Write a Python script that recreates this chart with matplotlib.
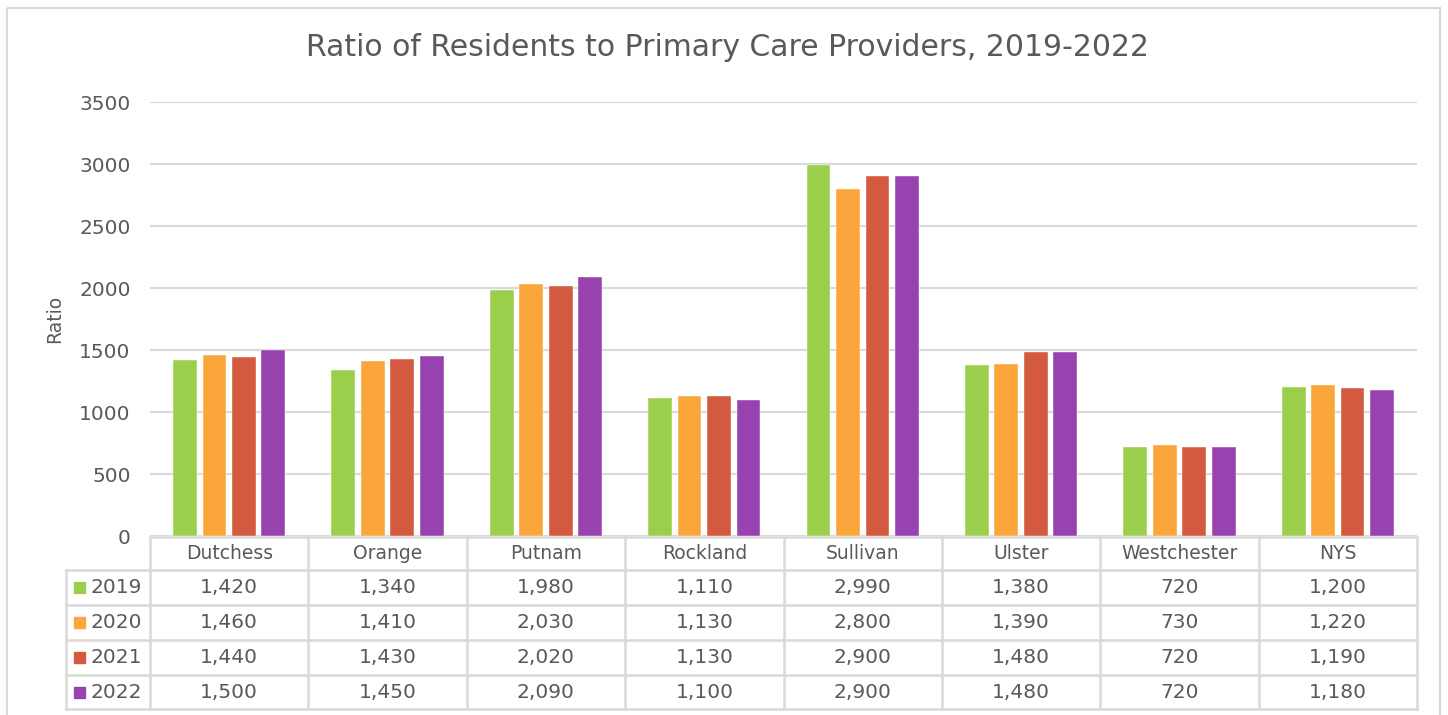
import matplotlib as mpl
mpl.use('Agg')
import matplotlib.pyplot as plt
import numpy as np
from matplotlib.patches import Rectangle

# data
counties = ['Dutchess', 'Orange', 'Putnam', 'Rockland', 'Sullivan', 'Ulster', 'Westchester', 'NYS']
years = ['2019', '2020', '2021', '2022']
r2019 = [1420, 1340, 1980, 1110, 2990, 1380, 720, 1200]
r2020 = [1460, 1410, 2030, 1130, 2800, 1390, 730, 1220]
r2021 = [1440, 1430, 2020, 1130, 2900, 1480, 720, 1190]
r2022 = [1500, 1450, 2090, 1100, 2900, 1480, 720, 1180]
series = [r2019, r2020, r2021, r2022]
colors = ['#9BCF4B', '#FAA63A', '#D45A3F', '#9842AF']

W, H = 1448, 715
txt = '#595959'
grid = '#D9D9D9'
plt.rcParams['font.family'] = ['DejaVu Sans']

fig = plt.figure(figsize=(W / 100, H / 100), dpi=100)

# plot area in pixel terms
x0, x1 = 150, 1417
y_top, y_zero = 102, 536
ax = fig.add_axes([x0 / W, (H - y_zero) / H, (x1 - x0) / W, (y_zero - y_top) / H])

n = len(counties)
x = np.arange(n)
step, bw = 0.186, 0.15
for k, (vals, c) in enumerate(zip(series, colors)):
    ax.bar(x + (k - 1.5) * step, vals, width=bw, color=c, edgecolor='white', linewidth=0.3, zorder=3)

ax.set_xlim(-0.5, n - 0.5)
ax.set_ylim(0, 3500)
ax.set_yticks(range(0, 3501, 500))
ax.set_xticks([])
ax.grid(axis='y', color=grid, linewidth=1.5, zorder=0)
for s in ax.spines.values():
    s.set_visible(False)
ax.tick_params(axis='y', length=0, pad=14, labelsize=14.5, labelcolor=txt)
ax.set_ylabel('Ratio', fontsize=13.5, color=txt, labelpad=11)

fig.text(727 / W, 1 - 48 / H, 'Ratio of Residents to Primary Care Providers, 2019-2022',
         ha='center', va='center', fontsize=21.5, color=txt)

# overlay in pixel coordinates for the data table and chart border
ov = fig.add_axes([0, 0, 1, 1], zorder=5)
ov.set_xlim(0, W)
ov.set_ylim(H, 0)
ov.axis('off')
ov.patch.set_alpha(0)

ov.add_patch(Rectangle((7, 8), 1433, 720, fill=False, edgecolor=grid, linewidth=1.5))

colw = (x1 - x0) / n
rows = [537, 570, 605, 640, 675, 709]
lab_x0 = 66
lw = 1.8
# horizontal lines
ov.plot([x0, x1], [rows[0], rows[0]], color=grid, lw=lw)
for yy in rows[1:]:
    ov.plot([lab_x0, x1], [yy, yy], color=grid, lw=lw)
# vertical lines
for i in range(n + 1):
    ov.plot([x0 + i * colw] * 2, [rows[0], rows[-1]], color=grid, lw=lw)
ov.plot([lab_x0, lab_x0], [rows[1], rows[-1]], color=grid, lw=lw)

for i, name in enumerate(counties):
    ov.text(x0 + (i + 0.5) * colw, (rows[0] + rows[1]) / 2, name,
            ha='center', va='center', fontsize=13.5, color=txt)
for r, (yr, vals, c) in enumerate(zip(years, series, colors)):
    yc = (rows[r + 1] + rows[r + 2]) / 2
    ov.add_patch(Rectangle((74, yc - 5.5), 11, 11, color=c))
    ov.text(90, yc, yr, ha='left', va='center', fontsize=14.5, color=txt)
    for i, v in enumerate(vals):
        ov.text(x0 + (i + 0.5) * colw, yc, f'{v:,}', ha='center', va='center',
                fontsize=14.5, color=txt)

fig.savefig('out.png', dpi=100)
